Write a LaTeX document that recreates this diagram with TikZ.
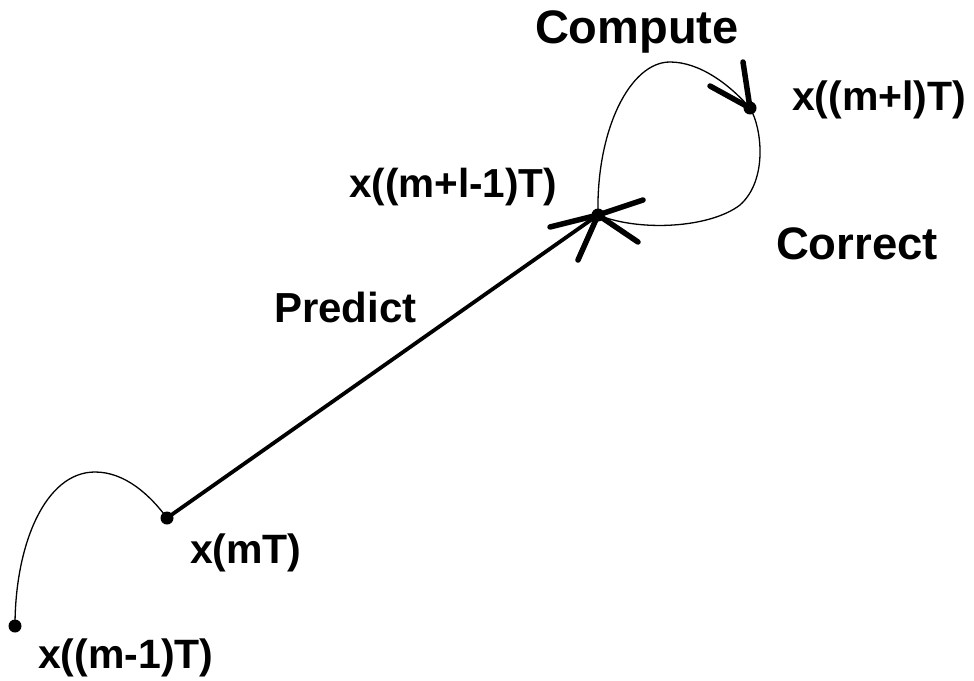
\documentclass[tikz,border=0pt]{standalone}
\usepackage{fontspec}
\setmainfont{Liberation Sans}
\newcommand\lbltext[2]{\fontsize{#1}{#1}\selectfont\bfseries #2}
\begin{document}
\begin{tikzpicture}[x=1pt,y=-1pt,
  lbl/.style={anchor=base west,inner sep=0pt,outer sep=0pt},
  thinpath/.style={line width=1.3pt},
  predictline/.style={line width=3.8pt,line cap=round},
  barb/.style={line width=5.5pt,line cap=round},
  ptdot/.style={circle,fill=black,inner sep=0pt,minimum size=13pt}]
\useasboundingbox (0,0) rectangle (974,680);
% points
\coordinate (A) at (15,626);
\coordinate (B) at (167,518);
\coordinate (C) at (598,215);
\coordinate (D) at (750,108);
\coordinate (Atop) at (95,472);
\coordinate (Ltop) at (670,62);
\coordinate (Rlow) at (740,205);
% barb ends
\coordinate (pb1) at (550,227);
\coordinate (pb2) at (578,260);
\coordinate (cb1) at (643,200);
\coordinate (cb2) at (638,242);
\coordinate (db1) at (743,62);
\coordinate (db2) at (710,86);
% curves
\draw[thinpath] (A) .. controls (15,545) and (45,472) .. (Atop)
                    .. controls (125,472) and (150,495) .. (B);
\draw[predictline] (B) -- (C);
\draw[thinpath] (C) .. controls (596,130) and (630,62) .. (Ltop)
                    .. controls (700,62) and (730,85) .. (D);
\draw[thinpath] (D) .. controls (762,128) and (768,180) .. (Rlow)
                    .. controls (710,228) and (640,232) .. (C);
% arrow barbs
\draw[barb] (pb1) -- (C) -- (pb2);
\draw[barb] (cb1) -- (C) -- (cb2);
\draw[barb] (db1) -- (D) -- (db2);
% dots
\node[ptdot] (dA) at (A) {};
\node[ptdot] (dB) at (B) {};
\node[ptdot] (dC) at (C) {};
\node[ptdot] (dD) at (D) {};
% labels
\node[lbl] (compute) at (535,43) {\lbltext{47}{Compute}};
\node[lbl] (lD) at (792,110) {\lbltext{41}{x((m+l)T)}};
\node[lbl] (lC) at (349,197) {\lbltext{40.5}{x((m+l-1)T)}};
\node[lbl] (correct) at (776,259) {\lbltext{45.5}{Correct}};
\node[lbl] (predict) at (274,322) {\lbltext{42}{Predict}};
\node[lbl] (lB) at (190,563) {\lbltext{41}{x(mT)}};
\node[lbl] (lA) at (38,668) {\lbltext{41}{x((m-1)T)}};
\end{tikzpicture}
\end{document}
